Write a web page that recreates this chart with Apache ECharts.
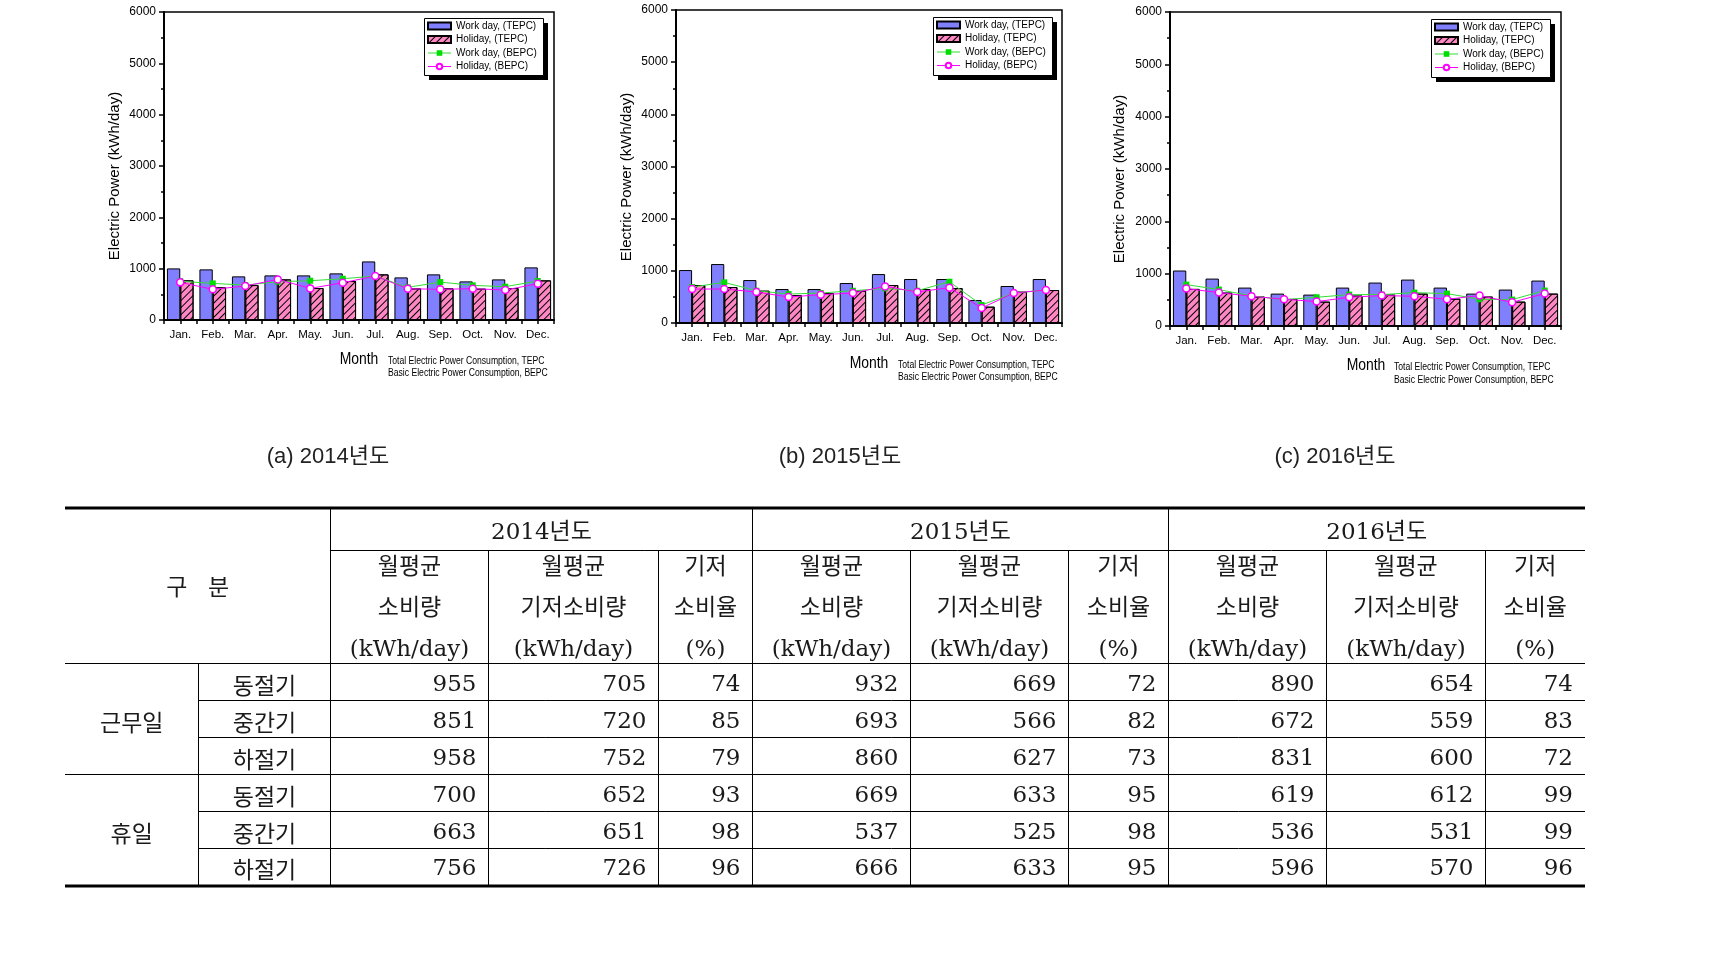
<!DOCTYPE html>
<html><head><meta charset="utf-8">
<script src="https://cdn.jsdelivr.net/npm/echarts@6/dist/echarts.min.js"></script>
<style>html,body{margin:0;padding:0;background:#fff;overflow:hidden}#c{width:1710px;height:953px}</style>
</head><body><div id="c"></div>
<script>
// ---------- chart data ----------
const months = ['Jan.','Feb.','Mar.','Apr.','May.','Jun.','Jul.','Aug.','Sep.','Oct.','Nov.','Dec.'];
const seriesNames = ['Work day, (TEPC)','Holiday, (TEPC)','Work day, (BEPC)','Holiday, (BEPC)'];
const yTicks = [0, 1000, 2000, 3000, 4000, 5000, 6000];

const work2014        = [1005, 986, 850, 869, 869, 908, 1141, 830, 889, 752, 791, 1025];
const holiday2014     = [772, 636, 681, 791, 623, 759, 889, 616, 616, 610, 623, 772];
const workBase2014    = [755, 713, 680, 746, 765, 804, 856, 636, 739, 674, 649, 759];
const holidayBase2014 = [733, 597, 662, 791, 616, 726, 856, 610, 597, 610, 584, 707];

const work2015        = [1015, 1130, 823, 651, 651, 766, 938, 843, 843, 440, 709, 843];
const holiday2015     = [728, 689, 619, 536, 574, 619, 728, 651, 670, 313, 600, 632];
const workBase2015    = [689, 779, 619, 555, 574, 619, 664, 619, 791, 345, 574, 632];
const holidayBase2015 = [651, 651, 594, 498, 543, 574, 702, 594, 677, 287, 574, 632];

const work2016        = [1060, 906, 734, 619, 600, 734, 830, 887, 734, 619, 696, 868];
const holiday2016     = [709, 638, 562, 517, 466, 581, 600, 619, 523, 562, 466, 619];
const workBase2016    = [791, 696, 575, 504, 549, 600, 600, 638, 619, 511, 504, 677];
const holidayBase2016 = [715, 638, 568, 511, 466, 549, 581, 568, 511, 581, 453, 619];

const yTitle = 'Electric Power (kWh/day)';
const xTitle = 'Month';
const captions = ['(a) 2014년도', '(b) 2015년도', '(c) 2016년도'];
const noteLines = ['Total Electric Power Consumption, TEPC', 'Basic Electric Power Consumption, BEPC'];

// ---------- table data ----------
const tableYears = ['2014년도', '2015년도', '2016년도'];
const tableSubHeaders = [['월평균','소비량','(kWh/day)'], ['월평균','기저소비량','(kWh/day)'], ['기저','소비율','(%)']];
const tableGroups = ['근무일', '휴일'];
const tableSeasons = ['동절기', '중간기', '하절기'];
// rows: work winter, work mid, work summer, holiday winter, holiday mid, holiday summer
const table2014 = [[955,705,74],[851,720,85],[958,752,79],[700,652,93],[663,651,98],[756,726,96]];
const table2015 = [[932,669,72],[693,566,82],[860,627,73],[669,633,95],[537,525,98],[666,633,95]];
const table2016 = [[890,654,74],[672,559,83],[831,600,72],[619,612,99],[536,531,99],[596,570,96]];

// ---------- layout / style ----------
const SANS = "'Liberation Sans', Arial, sans-serif";
const CAP = "'Liberation Sans', 'Noto Sans CJK KR', sans-serif";
const SERIF = "'DejaVu Serif', 'Noto Sans CJK KR', serif";
const KR = "'Noto Sans CJK KR', sans-serif";

const yearData = [
  [work2014, holiday2014, workBase2014, holidayBase2014],
  [work2015, holiday2015, workBase2015, holidayBase2015],
  [work2016, holiday2016, workBase2016, holidayBase2016]
];
const layout = [
  {grid:{left:164, top:12, width:390, height:308}, legendBox:[424,18,119,57], ytitle:[115,176], month:[359,359], note:[388,361,373], caption:[328,457]},
  {grid:{left:676, top:10, width:386, height:313}, legendBox:[933,17,119,58], ytitle:[627,177], month:[869,363], note:[898,365,377], caption:[840,457]},
  {grid:{left:1170, top:12, width:391, height:314}, legendBox:[1431,19,119,58], ytitle:[1120,179], month:[1366,365], note:[1394,367,380], caption:[1335,457]}
];

const hatch = {symbol:'rect', symbolSize:1, color:'#000', dashArrayX:[1,0], dashArrayY:[1,4], rotation:-Math.PI/4};
const black = '#000';

const grid = [], xAxis = [], yAxis = [], series = [], legend = [], graphic = [];

layout.forEach((L, i) => {
  grid.push(Object.assign({show:true, borderColor:black, borderWidth:1.5, backgroundColor:'transparent'}, L.grid));
  xAxis.push({gridIndex:i, type:'category', data:months,
    axisLine:{lineStyle:{color:black, width:2}},
    axisTick:{show:true, interval:0, length:4, lineStyle:{color:black, width:1.5}},
    axisLabel:{interval:0, fontFamily:SANS, fontSize:11.5, color:black, margin:9}});
  xAxis.push({gridIndex:i, type:'category', data:months, position:'bottom',
    axisLine:{show:false}, axisLabel:{show:false},
    axisTick:{show:true, alignWithLabel:true, interval:0, length:4, lineStyle:{color:black, width:1.5}}});
  yAxis.push({gridIndex:i, type:'value', min:yTicks[0], max:yTicks[yTicks.length-1], interval:yTicks[1]-yTicks[0],
    axisLine:{show:true, lineStyle:{color:black, width:2}},
    axisTick:{show:true, length:5, lineStyle:{color:black, width:1.5}},
    minorTick:{show:true, splitNumber:2, length:3, lineStyle:{color:black, width:1.5}},
    splitLine:{show:false},
    axisLabel:{fontFamily:SANS, fontSize:12, color:black, margin:8, formatter:v => String(v)}});
  const d = yearData[i];
  series.push({type:'bar', name:seriesNames[0], xAxisIndex:2*i, yAxisIndex:i, data:d[0],
    barGap:'0%', barCategoryGap:'18%',
    itemStyle:{color:'#8080ff', borderColor:black, borderWidth:1}});
  series.push({type:'bar', name:seriesNames[1], xAxisIndex:2*i, yAxisIndex:i, data:d[1],
    barGap:'0%', barCategoryGap:'18%',
    itemStyle:{color:'#ff88c4', borderColor:black, borderWidth:1, decal:hatch}});
  series.push({type:'line', name:seriesNames[2], xAxisIndex:2*i, yAxisIndex:i, data:d[2], z:5,
    symbol:'rect', symbolSize:6, showAllSymbol:true,
    lineStyle:{color:'#33dd33', width:1}, itemStyle:{color:'#00dd00'}});
  series.push({type:'line', name:seriesNames[3], xAxisIndex:2*i, yAxisIndex:i, data:d[3], z:6,
    symbol:'circle', symbolSize:7, showAllSymbol:true,
    lineStyle:{color:'#ff00ff', width:1}, itemStyle:{color:'#fff', borderColor:'#ff00ff', borderWidth:1.5}});
  const B = L.legendBox;
  // legend frame with hard drop shadow
  graphic.push({type:'rect', z:3, silent:true, shape:{x:B[0]+5, y:B[1]+5, width:B[2], height:B[3]}, style:{fill:black}});
  graphic.push({type:'rect', z:3, silent:true, shape:{x:B[0]+0.5, y:B[1]+0.5, width:B[2], height:B[3]}, style:{fill:'#fff', stroke:black, lineWidth:1}});
  legend.push({orient:'vertical', left:B[0], top:B[1], itemWidth:23, itemHeight:7, itemGap:3.5,
    padding:[3,3,3,3], backgroundColor:'transparent', borderWidth:0, z:5,
    selectedMode:false,
    lineStyle:{width:1},
    textStyle:{fontFamily:SANS, fontSize:10, color:black},
    data:[{name:seriesNames[0], icon:'rect'}, {name:seriesNames[1], icon:'rect'}, {name:seriesNames[2]}, {name:seriesNames[3]}]});
  graphic.push({type:'text', x:L.ytitle[0], y:L.ytitle[1], rotation:Math.PI/2, silent:true,
    style:{text:yTitle, fontFamily:SANS, fontSize:15, fill:black, align:'center', verticalAlign:'middle'}});
  graphic.push({type:'text', x:L.month[0], y:L.month[1], scaleX:0.82, silent:true,
    style:{text:xTitle, fontFamily:SANS, fontSize:17, fill:black, align:'center', verticalAlign:'middle'}});
  graphic.push({type:'text', x:L.note[0], y:L.note[1], scaleX:0.82, silent:true,
    style:{text:noteLines[0], fontFamily:SANS, fontSize:10.5, fill:black, align:'left', verticalAlign:'middle'}});
  graphic.push({type:'text', x:L.note[0], y:L.note[2], scaleX:0.82, silent:true,
    style:{text:noteLines[1], fontFamily:SANS, fontSize:10.5, fill:black, align:'left', verticalAlign:'middle'}});
  graphic.push({type:'text', x:L.caption[0], y:L.caption[1], silent:true,
    style:{text:captions[i], fontFamily:CAP, fontSize:22, fill:'#222', align:'center', verticalAlign:'middle'}});
});

// ---------- table ----------
const colX = [65, 198.5, 330.5, 488.5, 658.5, 752.5, 910.5, 1068.5, 1168.5, 1326.5, 1485.5, 1585];
const rowY = [508, 550.5, 663.5, 700.5, 737.5, 774.5, 811.5, 848.5, 886];
function hline(x1, x2, y, w) { graphic.push({type:'line', shape:{x1:x1, y1:y, x2:x2, y2:y}, style:{stroke:black, lineWidth:w}, silent:true}); }
function vline(x, y1, y2) { graphic.push({type:'line', shape:{x1:x, y1:y1, x2:x, y2:y2}, style:{stroke:black, lineWidth:1}, silent:true}); }
function txt(s, x, y, font, size, align) { graphic.push({type:'text', x:x, y:y, silent:true, style:{text:s, fontFamily:font, fontSize:size, fill:'#1a1a1a', align:align||'center', verticalAlign:'middle'}}); }

hline(colX[0], colX[11], rowY[0], 3);
hline(colX[2], colX[11], rowY[1], 1);
hline(colX[0], colX[11], rowY[2], 1);
hline(colX[1], colX[11], rowY[3], 1);
hline(colX[1], colX[11], rowY[4], 1);
hline(colX[0], colX[11], rowY[5], 1);
hline(colX[1], colX[11], rowY[6], 1);
hline(colX[1], colX[11], rowY[7], 1);
hline(colX[0], colX[11], rowY[8], 3);
vline(colX[1], rowY[2], rowY[8]);
[2, 5, 8].forEach(c => vline(colX[c], rowY[0], rowY[8]));
[3, 4, 6, 7, 9, 10].forEach(c => vline(colX[c], rowY[1], rowY[8]));

txt('구    분', (colX[0]+colX[2])/2, 586, KR, 23);
tableYears.forEach((y, k) => txt(y, (colX[2+3*k]+colX[5+3*k])/2, 533, SERIF, 23));
const subY = [568, 609, 650];
for (let k = 0; k < 3; k++) {
  tableSubHeaders.forEach((lines, j) => {
    const cx = (colX[2+3*k+j] + colX[3+3*k+j]) / 2;
    lines.forEach((s, m) => txt(s, cx, subY[m], SERIF, 23));
  });
}
const dataY = [685, 722, 759, 796, 833, 869];
tableGroups.forEach((g, k) => txt(g, (colX[0]+colX[1])/2, dataY[3*k+1], KR, 23));
dataY.forEach((y, r) => txt(tableSeasons[r % 3], (colX[1]+colX[2])/2, y, KR, 23));
[table2014, table2015, table2016].forEach((tbl, k) => {
  tbl.forEach((row, r) => {
    row.forEach((v, j) => txt(String(v), colX[3+3*k+j] - 12, dataY[r], SERIF, 23, 'right'));
  });
});

const chart = echarts.init(document.getElementById('c'), null, {renderer:'canvas', width:1710, height:953});
chart.setOption({
  animation:false,
  backgroundColor:'#fff',
  grid:grid, xAxis:xAxis, yAxis:yAxis, series:series, legend:legend, graphic:graphic
});
</script>
</body></html>
